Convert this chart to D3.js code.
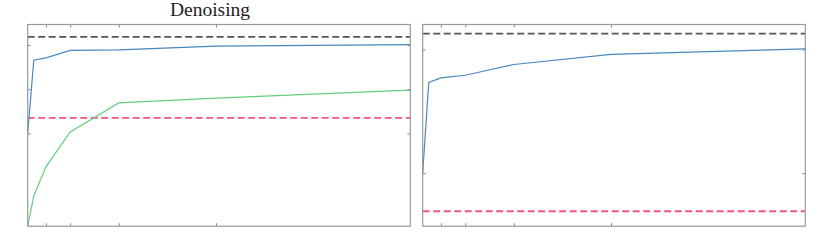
<!DOCTYPE html>
<html>
<head>
<meta charset="utf-8">
<script src="https://cdn.jsdelivr.net/npm/d3@7"></script>
<style>
  body { margin: 0; background: #fff; }
  svg { display: block; }
  .tick line { stroke: #888; stroke-width: 1; }
  .domain { display: none; }
</style>
</head>
<body>
<svg id="chart" width="830" height="249"></svg>
<script>
// x values (iterations / samples) shared by both panels
var steps = [1, 2, 4, 8, 16, 32, 64];
var xTicks = [4, 8, 16, 32];

// left panel: Denoising
var denoiseBlue  = [0.700, 0.8655, 0.8707, 0.8874, 0.8885, 0.8971, 0.9005];
var denoiseGreen = [0.4907, 0.5591, 0.6246, 0.7036, 0.7691, 0.7797, 0.7977];
var denoiseTop = 0.918;   // black dashed reference
var denoiseBase = 0.7352; // red dashed reference
var denoiseYTicks = [0.7, 0.8, 0.9];

// right panel
var rightBlue = [0.8002, 0.8733, 0.8770, 0.8792, 0.8879, 0.8960, 0.9005];
var rightTop = 0.9129;
var rightBase = 0.7693;
var rightYTicks = [0.8, 0.9];

var svg = d3.select("#chart");
var top_ = 24.5, bottom = 226.2;

var colors = {blue: "#4a87c0", green: "#62d07c", red: "#f25580", black: "#555"};

function panel(opts) {
  var x = d3.scaleLinear().domain([1, 64]).range([opts.left, opts.right]);
  var y = d3.scaleLinear().domain(opts.yDomain).range([bottom, top_]);
  var g = svg.append("g");

  var line = d3.line()
    .x(function(d, i) { return x(steps[i]); })
    .y(function(d) { return y(d); });

  // reference lines
  g.append("line")
    .attr("x1", opts.left).attr("x2", opts.right)
    .attr("y1", y(opts.topRef)).attr("y2", y(opts.topRef))
    .attr("stroke", colors.black).attr("stroke-width", 1.8)
    .attr("stroke-dasharray", "7,3.5");
  g.append("line")
    .attr("x1", opts.left).attr("x2", opts.right)
    .attr("y1", y(opts.baseRef)).attr("y2", y(opts.baseRef))
    .attr("stroke", colors.red).attr("stroke-width", 1.8)
    .attr("stroke-dasharray", "7,3.5");

  opts.series.forEach(function(s) {
    g.append("path")
      .datum(s.values)
      .attr("d", line)
      .attr("fill", "none")
      .attr("stroke", s.color)
      .attr("stroke-width", 1.2);
  });

  // inward ticks on all four sides
  g.append("g").attr("transform", "translate(0," + bottom + ")")
    .call(d3.axisBottom(x).tickValues(xTicks).tickSize(-3).tickFormat(""));
  g.append("g").attr("transform", "translate(0," + top_ + ")")
    .call(d3.axisTop(x).tickValues(xTicks).tickSize(-3).tickFormat(""));
  g.append("g").attr("transform", "translate(" + opts.left + ",0)")
    .call(d3.axisLeft(y).tickValues(opts.yTicks).tickSize(-3).tickFormat(""));
  g.append("g").attr("transform", "translate(" + opts.right + ",0)")
    .call(d3.axisRight(y).tickValues(opts.yTicks).tickSize(-3).tickFormat(""));

  // frame
  g.append("rect")
    .attr("x", opts.left).attr("y", top_)
    .attr("width", opts.right - opts.left).attr("height", bottom - top_)
    .attr("fill", "none").attr("stroke", "#999").attr("stroke-width", 1.2);

  if (opts.title) {
    g.append("text")
      .attr("x", 210).attr("y", 16)
      .attr("text-anchor", "middle")
      .attr("font-family", "'Liberation Serif', serif")
      .attr("font-size", 19.5)
      .attr("fill", "#222")
      .text(opts.title);
  }
}

panel({
  left: 27.7, right: 410.3,
  yDomain: [0.4907, 0.946],
  yTicks: denoiseYTicks,
  topRef: denoiseTop, baseRef: denoiseBase,
  series: [{values: denoiseBlue, color: colors.blue}, {values: denoiseGreen, color: colors.green}],
  title: "Denoising"
});

panel({
  left: 422.7, right: 805.3,
  yDomain: [0.7572, 0.9202],
  yTicks: rightYTicks,
  topRef: rightTop, baseRef: rightBase,
  series: [{values: rightBlue, color: colors.blue}]
});
</script>
</body>
</html>
